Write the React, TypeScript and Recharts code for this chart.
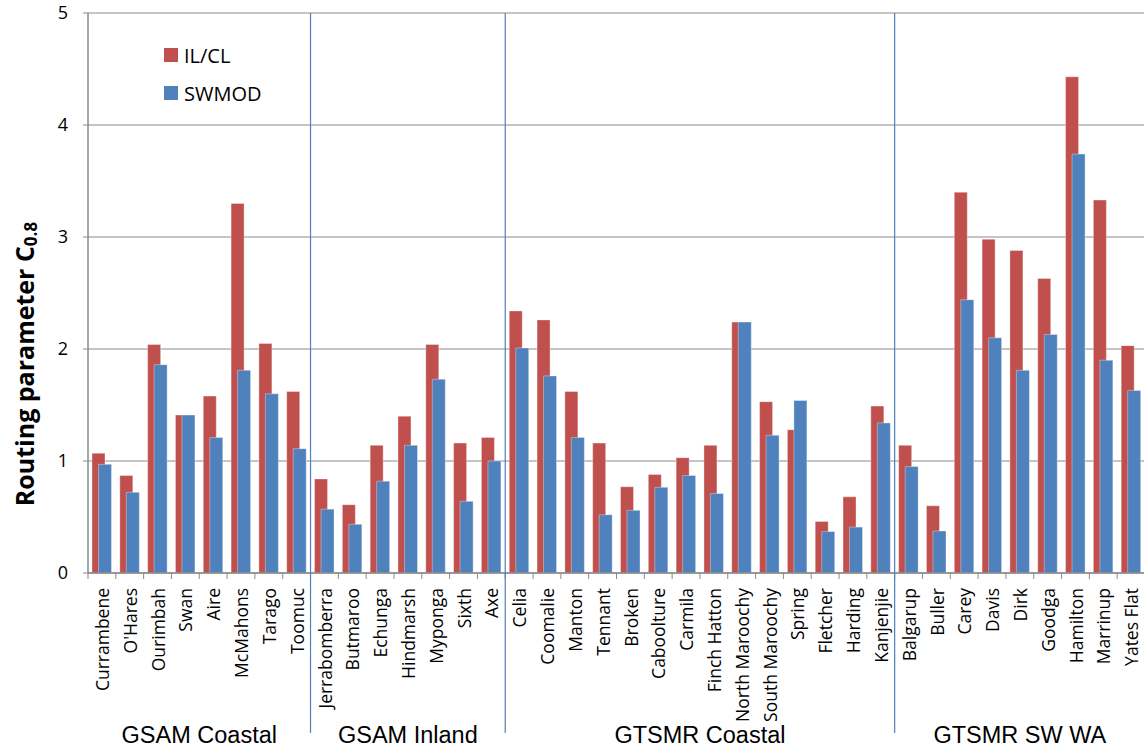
import { Bar, BarChart, CartesianGrid, Legend, XAxis, YAxis } from "recharts"

const categories = [
  "Currambene", "O'Hares", "Ourimbah", "Swan", "Aire", "McMahons", "Tarago", "Toomuc",
  "Jerrabomberra", "Butmaroo", "Echunga", "Hindmarsh", "Myponga", "Sixth", "Axe",
  "Celia", "Coomalie", "Manton", "Tennant", "Broken", "Caboolture", "Carmila", "Finch Hatton",
  "North Maroochy", "South Maroochy", "Spring", "Fletcher", "Harding", "Kanjenjie",
  "Balgarup", "Buller", "Carey", "Davis", "Dirk", "Goodga", "Hamilton", "Marrinup", "Yates Flat",
]

const ilcl = [
  1.07, 0.87, 2.04, 1.41, 1.58, 3.3, 2.05, 1.62,
  0.84, 0.61, 1.14, 1.4, 2.04, 1.16, 1.21,
  2.34, 2.26, 1.62, 1.16, 0.77, 0.88, 1.03, 1.14, 2.24, 1.53, 1.28, 0.46, 0.68, 1.49,
  1.14, 0.6, 3.4, 2.98, 2.88, 2.63, 4.43, 3.33, 2.03,
]

const swmod = [
  0.97, 0.72, 1.86, 1.41, 1.21, 1.81, 1.6, 1.11,
  0.57, 0.435, 0.82, 1.14, 1.73, 0.64, 1.0,
  2.01, 1.76, 1.21, 0.52, 0.56, 0.765, 0.87, 0.71, 2.24, 1.23, 1.54, 0.37, 0.41, 1.34,
  0.95, 0.375, 2.44, 2.1, 1.81, 2.13, 3.74, 1.9, 1.63,
]

const groupNames = ["GSAM Coastal", "GSAM Inland", "GTSMR Coastal", "GTSMR SW WA"]
const groupSizes = [8, 7, 14, 9]
const yTicks = [0, 1, 2, 3, 4, 5]

const data = categories.map((name, i) => ({ name, ilcl: ilcl[i], swmod: swmod[i] }))

const CHART_W = 1145
const CHART_H = 753
const MARGIN = { top: 13, right: 0, bottom: 0, left: 0 }
const Y_AXIS_W = 88
const X_AXIS_H = 180
const PLOT_TOP = MARGIN.top
const PLOT_BOTTOM = CHART_H - MARGIN.bottom - X_AXIS_H
const BAND = (CHART_W - MARGIN.left - MARGIN.right - Y_AXIS_W) / categories.length

const RED = "#C0504D"
const BLUE = "#4F81BD"
const GRID = "#8a8a8a"

// index of the first category in each group
const groupStarts = groupSizes.map((_, g) => groupSizes.slice(0, g).reduce((a, b) => a + b, 0))

function CategoryTick(props: any) {
  const { x, payload } = props
  const i = props.index ?? payload.index
  const left = x - BAND / 2
  const g = groupStarts.indexOf(i)
  return (
    <g>
      <line x1={left} x2={left} y1={PLOT_BOTTOM} y2={PLOT_BOTTOM + 6} stroke={GRID} />
      {g > 0 && (
        <line x1={left} x2={left} y1={PLOT_TOP} y2={733} stroke={BLUE} strokeWidth={1.2} />
      )}
      <text
        transform={`translate(${x + 1},${PLOT_BOTTOM + 15}) rotate(-90)`}
        textAnchor="end"
        dy="0.35em"
        fontFamily="Open Sans"
        fontSize={17.5}
        fill="#000"
      >
        {payload.value}
      </text>
      {g >= 0 && (
        <text
          x={left + (groupSizes[g] * BAND) / 2}
          y={743}
          textAnchor="middle"
          fontFamily="Liberation Sans"
          fontSize={23.5}
          fill="#000"
        >
          {groupNames[g]}
        </text>
      )}
    </g>
  )
}

function YLabel() {
  const cx = 24
  const cy = 364
  return (
    <text
      transform={`rotate(-90 ${cx} ${cy})`}
      x={cx}
      y={cy}
      textAnchor="middle"
      dominantBaseline="central"
      fontFamily="Open Sans"
      fontWeight={700}
      fontSize={25}
      fill="#000"
    >
      Routing parameter C<tspan fontSize={17} dy={6}>0.8</tspan>
    </text>
  )
}

function LegendBox(props: any) {
  return (
    <div style={{ fontFamily: "Open Sans", fontSize: 20, color: "#000" }}>
      {props.payload.map((entry: any) => (
        <div key={entry.value} style={{ display: "flex", alignItems: "center", height: 38 }}>
          <span style={{ width: 14, height: 14, background: entry.color, marginRight: 6 }} />
          {entry.value}
        </div>
      ))}
    </div>
  )
}

export default function App() {
  return (
    <div style={{ position: "absolute", left: 0, top: 0, width: 1144, height: CHART_H, overflow: "hidden", background: "#fff" }}>
      <BarChart width={CHART_W} height={CHART_H} data={data} margin={MARGIN} barSize={13} barGap={-6.5}>
        <CartesianGrid vertical={false} stroke={GRID} />
        <XAxis
          dataKey="name"
          interval={0}
          height={X_AXIS_H}
          tickLine={false}
          axisLine={{ stroke: GRID, strokeWidth: 1.5 }}
          tick={<CategoryTick />}
        />
        <YAxis
          width={Y_AXIS_W}
          domain={[0, 5]}
          ticks={yTicks}
          interval={0}
          tickSize={5}
          tickMargin={15}
          axisLine={{ stroke: GRID, strokeWidth: 1.5 }}
          tickLine={{ stroke: GRID }}
          tick={{ fill: "#000", fontSize: 18, fontFamily: "Open Sans" }}
          label={<YLabel />}
        />
        <Legend
          layout="vertical"
          align="center"
          verticalAlign="middle"
          wrapperStyle={{ left: 164, top: 36, width: 160 }}
          content={<LegendBox />}
        />
        <Bar dataKey="ilcl" name="IL/CL" fill={RED} stroke="#fff" strokeOpacity={0.35} isAnimationActive={false} />
        <Bar dataKey="swmod" name="SWMOD" fill={BLUE} stroke="#fff" strokeOpacity={0.35} isAnimationActive={false} />
      </BarChart>
    </div>
  )
}
